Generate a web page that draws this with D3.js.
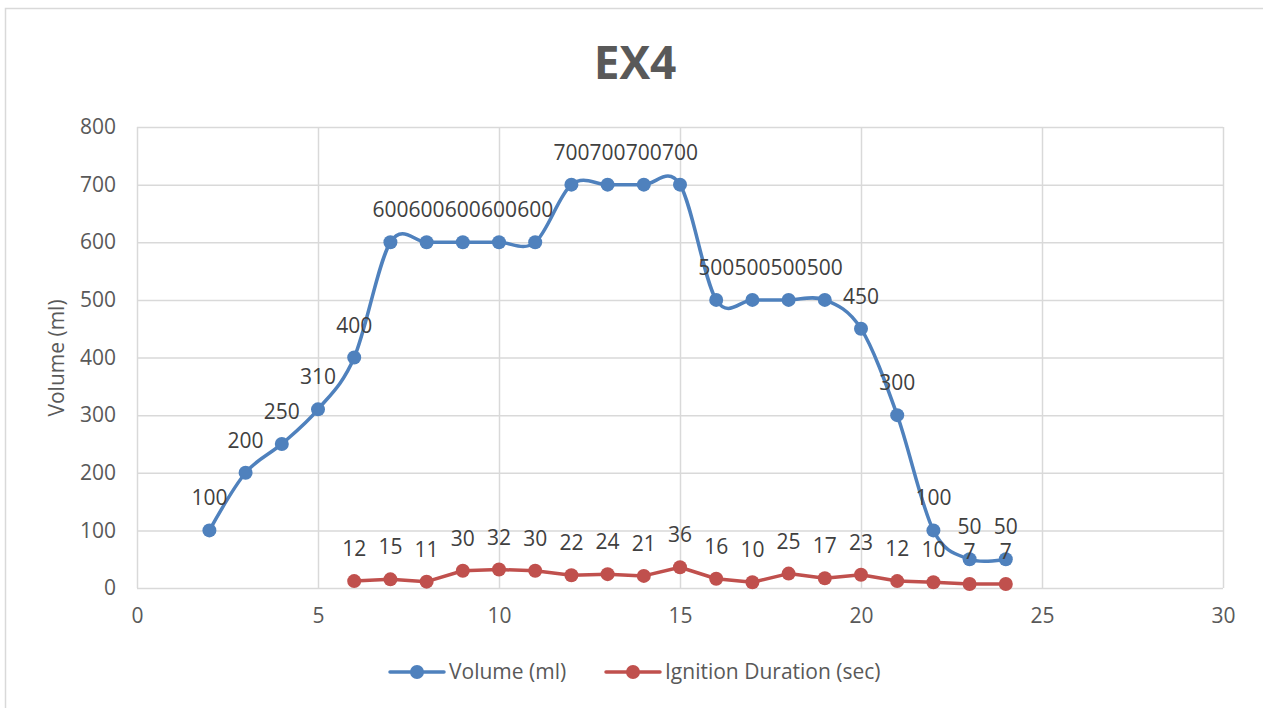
<!DOCTYPE html>
<html>
<head>
<meta charset="utf-8">
<script src="https://cdn.jsdelivr.net/npm/d3@7"></script>
<style>
  html, body { margin: 0; padding: 0; background: #fff; }
  svg { display: block; font-family: "Open Sans", sans-serif; }
</style>
</head>
<body>
<svg id="chart" width="1263" height="708"></svg>
<script>
// Series data
const volumeX = [2, 3, 4, 5, 6, 7, 8, 9, 10, 11, 12, 13, 14, 15, 16, 17, 18, 19, 20, 21, 22, 23, 24];
const volumeY = [100, 200, 250, 310, 400, 600, 600, 600, 600, 600, 700, 700, 700, 700, 500, 500, 500, 500, 450, 300, 100, 50, 50];
const ignitionX = [6, 7, 8, 9, 10, 11, 12, 13, 14, 15, 16, 17, 18, 19, 20, 21, 22, 23, 24];
const ignitionY = [12, 15, 11, 30, 32, 30, 22, 24, 21, 36, 16, 10, 25, 17, 23, 12, 10, 7, 7];
const xTicks = [0, 5, 10, 15, 20, 25, 30];
const yTicks = [0, 100, 200, 300, 400, 500, 600, 700, 800];
const seriesNames = ["Volume (ml)", "Ignition Duration (sec)"];
const titleText = "EX4";
const yAxisTitle = "Volume (ml)";

const svg = d3.select("#chart");
const W = 1263, H = 708;
const plot = { left: 137, right: 1223, top: 127, bottom: 588 };
const colors = ["#4f81bd", "#c0504d"];
const fontSize = "21px";

// Chart frame
svg.append("rect")
  .attr("x", 5.5).attr("y", 8.5).attr("width", W).attr("height", H)
  .attr("fill", "#fff").attr("stroke", "#d9d9d9").attr("stroke-width", 1.5);

const x = d3.scaleLinear().domain([0, 30]).range([plot.left, plot.right]);
const y = d3.scaleLinear().domain([0, 800]).range([plot.bottom, plot.top]);

// Gridlines
const gx = svg.append("g")
  .attr("transform", `translate(0,${plot.bottom})`)
  .call(d3.axisBottom(x).tickValues(xTicks).tickSize(-(plot.bottom - plot.top)).tickFormat(""));
const gy = svg.append("g")
  .attr("transform", `translate(${plot.left},0)`)
  .call(d3.axisLeft(y).tickValues(yTicks).tickSize(-(plot.right - plot.left)).tickFormat(""));
[gx, gy].forEach(g => {
  g.select(".domain").remove();
  g.selectAll(".tick line").attr("stroke", "#d9d9d9").attr("stroke-width", 1.5);
});

// Tick labels
const xl = svg.append("g")
  .attr("transform", `translate(0,${plot.bottom})`)
  .call(d3.axisBottom(x).tickValues(xTicks).tickSize(0).tickPadding(20));
const yl = svg.append("g")
  .attr("transform", `translate(${plot.left},0)`)
  .call(d3.axisLeft(y).tickValues(yTicks).tickSize(0).tickPadding(21));
[xl, yl].forEach(g => {
  g.select(".domain").remove();
  g.selectAll("text")
    .attr("fill", "#595959")
    .style("font-family", '"Open Sans", sans-serif')
    .style("font-size", fontSize);
});

// Title
svg.append("text")
  .attr("x", 635).attr("y", 79)
  .attr("text-anchor", "middle")
  .attr("fill", "#595959")
  .style("font-size", "46px").style("font-weight", "bold")
  .text(titleText);

// Y axis title
svg.append("text")
  .attr("transform", `translate(64,358) rotate(-90)`)
  .attr("text-anchor", "middle")
  .attr("fill", "#595959")
  .style("font-size", fontSize)
  .text(yAxisTitle);

// Series
const volumeData = volumeX.map((d, i) => ({ x: d, y: volumeY[i] }));
const ignitionData = ignitionX.map((d, i) => ({ x: d, y: ignitionY[i] }));

const smoothLine = d3.line().x(d => x(d.x)).y(d => y(d.y)).curve(d3.curveCardinal.tension(0));
const straightLine = d3.line().x(d => x(d.x)).y(d => y(d.y));

function drawSeries(data, gen, color) {
  const g = svg.append("g");
  g.append("path").datum(data)
    .attr("d", gen)
    .attr("fill", "none")
    .attr("stroke", color)
    .attr("stroke-width", 3.5)
    .attr("stroke-linejoin", "round")
    .attr("stroke-linecap", "round");
  g.selectAll("circle").data(data).join("circle")
    .attr("cx", d => x(d.x)).attr("cy", d => y(d.y))
    .attr("r", 7).attr("fill", color);
  return g;
}
drawSeries(volumeData, smoothLine, colors[0]);
drawSeries(ignitionData, straightLine, colors[1]);

// Data labels
function drawLabels(data) {
  svg.append("g").selectAll("text").data(data).join("text")
    .attr("x", d => x(d.x))
    .attr("y", d => y(d.y) - 25)
    .attr("text-anchor", "middle")
    .attr("fill", "#404040")
    .style("font-size", fontSize)
    .text(d => d.y);
}
drawLabels(volumeData);
drawLabels(ignitionData);

// Legend
const legend = svg.append("g").attr("transform", "translate(0,672)");
const legendItems = [
  { name: seriesNames[0], color: colors[0], x0: 390 },
  { name: seriesNames[1], color: colors[1], x0: 606 }
];
legendItems.forEach(item => {
  const g = legend.append("g").attr("transform", `translate(${item.x0},0)`);
  g.append("line").attr("x1", 0).attr("x2", 54).attr("y1", 0).attr("y2", 0)
    .attr("stroke", item.color).attr("stroke-width", 3.5).attr("stroke-linecap", "round");
  g.append("circle").attr("cx", 27).attr("cy", 0).attr("r", 7).attr("fill", item.color);
  g.append("text").attr("x", 59).attr("y", 7)
    .attr("fill", "#595959").style("font-size", fontSize)
    .text(item.name);
});
</script>
</body>
</html>
